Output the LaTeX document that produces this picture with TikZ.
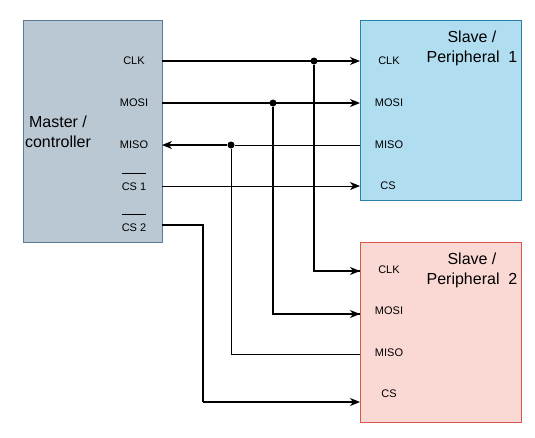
\documentclass[tikz,border=0pt]{standalone}
\usepackage{fontspec}
\setmainfont{Liberation Sans}
\usetikzlibrary{arrows.meta}
\definecolor{mfill}{HTML}{BAC8D3}
\definecolor{mdraw}{HTML}{5A7A95}
\definecolor{s1fill}{HTML}{B1DDF0}
\definecolor{s1draw}{HTML}{2A7FAF}
\definecolor{s2fill}{HTML}{FAD9D5}
\definecolor{s2draw}{HTML}{D9574A}
\tikzset{
  x=1pt, y=-1pt,
  port/.style={font=\fontsize{11}{13}\selectfont, inner sep=0pt, anchor=center},
  title/.style={font=\fontsize{16}{20}\selectfont, align=center, inner sep=0pt},
  wire/.style={line width=1.2pt},
  thinwire/.style={line width=0.8pt},
  tip/.style={-{Stealth[length=10pt,width=8pt,inset=3pt]}},
  junc/.style={circle, fill=black, inner sep=0pt, minimum size=7pt}
}
\begin{document}
\begin{tikzpicture}
\useasboundingbox (0,0) rectangle (535,437);
% boxes
\draw[fill=mfill, draw=mdraw, line width=1pt] (23,20) rectangle (162,242);
\draw[fill=s1fill, draw=s1draw, line width=1pt] (360,20) rectangle (521,200);
\draw[fill=s2fill, draw=s2draw, line width=1pt] (360,242) rectangle (521,422);
% titles
\node[title] (mt) at (58,132) {Master /\\controller};
\node[title] (s1t) at (472,48) {Slave /\\Peripheral\ \ 1};
\node[title] (s2t) at (472,270) {Slave /\\Peripheral\ \ 2};
% master ports
\node[port] (mclk) at (134,61) {CLK};
\node[port] (mmosi) at (134,103) {MOSI};
\node[port] (mmiso) at (134,145) {MISO};
\node[port] (mcs1) at (134,187) {CS 1};
\node[port] (mcs2) at (134,228) {CS 2};
\draw[line width=0.8pt] ([yshift=10pt]mcs1.north west) -- ([yshift=10pt]mcs1.north east);
\draw[line width=0.8pt] ([yshift=10pt]mcs2.north west) -- ([yshift=10pt]mcs2.north east);
% slave 1 ports
\node[port] (aclk) at (389,61) {CLK};
\node[port] (amosi) at (389,103) {MOSI};
\node[port] (amiso) at (389,145) {MISO};
\node[port] (acs) at (388,186) {CS};
% slave 2 ports
\node[port] (bclk) at (389,270) {CLK};
\node[port] (bmosi) at (389,311) {MOSI};
\node[port] (bmiso) at (389,353) {MISO};
\node[port] (bcs) at (389,394) {CS};
% anchor coordinates on box edges
\coordinate (mE1) at (162,61);
\coordinate (mE2) at (162,103);
\coordinate (mE3) at (162,145);
\coordinate (mE4) at (162,186);
\coordinate (mE5) at (162,225);
\coordinate (aW1) at (360,61);
\coordinate (aW2) at (360,103);
\coordinate (aW3) at (360,145);
\coordinate (aW4) at (360,186);
\coordinate (bW1) at (360,271);
\coordinate (bW2) at (360,314);
\coordinate (bW3) at (360,354);
\coordinate (bW4) at (360,402);
\coordinate (cs2bend) at (203,402);
% junctions
\node[junc] (jclk) at (314,61) {};
\node[junc] (jmosi) at (273,103) {};
\node[junc] (jmiso) at (231,145) {};
% wires
\draw[wire, tip] (mE1) -- (aW1);
\draw[wire] (jclk) |- (bW1);
\draw[wire, tip] (jclk |- bW1) -- (bW1);
\draw[wire, tip] (mE2) -- (aW2);
\draw[wire] (jmosi) |- (bW2);
\draw[wire, tip] (jmosi |- bW2) -- (bW2);
\draw[thinwire] (aW3) -- (jmiso);
\draw[wire, tip] (jmiso) -- (mE3);
\draw[thinwire] (bW3) -| (jmiso);
\draw[thinwire, tip] (mE4) -- (aW4);
\draw[wire] (mE5) -| (cs2bend);
\draw[wire, tip] (cs2bend) -- (bW4);
\end{tikzpicture}
\end{document}
